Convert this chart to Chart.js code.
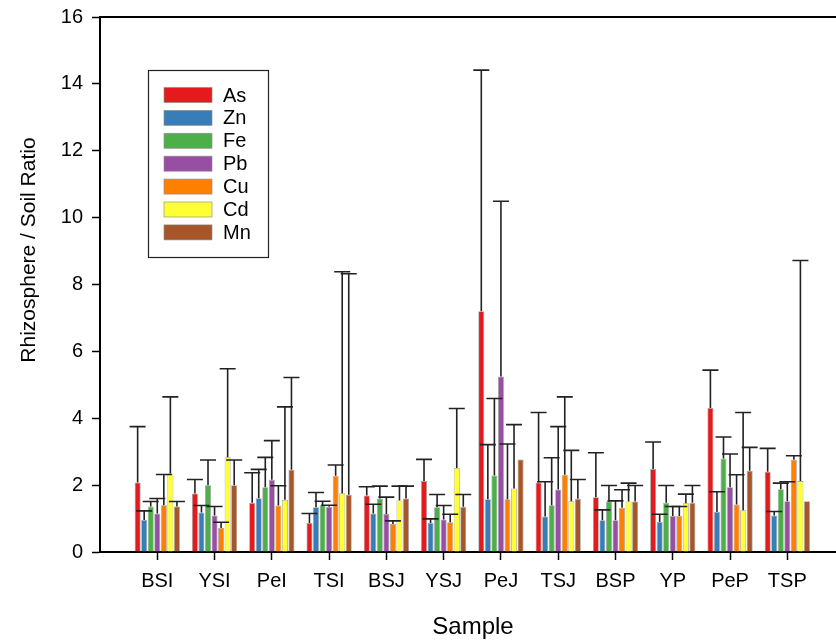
<!DOCTYPE html>
<html>
<head>
<meta charset="utf-8">
<script src="https://cdn.jsdelivr.net/npm/chart.js@4.4.1/dist/chart.umd.min.js"></script>
<style>
html,body{margin:0;padding:0;background:#fff;}
canvas{display:block;}
</style>
</head>
<body>
<canvas id="c" width="836" height="642"></canvas>
<script>
const categories = ['BSI','YSI','PeI','TSI','BSJ','YSJ','PeJ','TSJ','BSP','YP','PeP','TSP'];
const seriesNames = ['As','Zn','Fe','Pb','Cu','Cd','Mn'];

const valAs = [2.08, 1.75, 1.47, 0.87, 1.69, 2.12, 7.20, 2.08, 1.64, 2.48, 4.31, 2.40];
const valZn = [0.96, 1.18, 1.61, 1.34, 1.15, 0.87, 1.58, 1.06, 0.95, 0.90, 1.20, 1.09];
const valFe = [1.36, 2.00, 1.94, 1.40, 1.60, 1.34, 2.29, 1.40, 1.51, 1.47, 2.80, 1.88];
const valPb = [1.15, 1.09, 2.16, 1.35, 1.14, 0.97, 5.25, 1.87, 0.95, 1.08, 1.94, 1.52];
const valCu = [1.40, 0.72, 1.39, 2.28, 0.84, 0.89, 1.58, 2.31, 1.32, 1.08, 1.42, 2.76];
const valCd = [2.35, 2.83, 1.56, 1.76, 1.54, 2.51, 1.90, 1.52, 1.51, 1.46, 1.25, 2.12];
const valMn = [1.36, 2.00, 2.46, 1.71, 1.60, 1.35, 2.77, 1.59, 1.51, 1.47, 2.43, 1.52];

const errAs = [1.67, 0.42, 0.90, 0.28, 0.26, 0.65, 7.21, 2.09, 1.33, 0.81, 1.13, 0.70];
const errZn = [0.27, 0.21, 0.86, 0.44, 0.28, 0.12, 1.63, 1.04, 0.31, 0.23, 0.60, 0.12];
const errFe = [0.15, 0.75, 0.89, 0.12, 0.37, 0.38, 2.30, 1.42, 0.48, 0.52, 0.64, 0.18];
const errPb = [0.45, 0.27, 1.17, 0.05, 0.50, 0.42, 5.24, 1.88, 0.58, 0.28, 0.99, 0.58];
const errCu = [0.92, 0.17, 0.59, 0.32, 0.09, 0.24, 1.65, 2.33, 0.54, 0.28, 0.89, 0.12];
const errCd = [2.29, 2.65, 2.78, 6.62, 0.43, 1.78, 1.91, 1.52, 0.55, 0.27, 2.92, 6.60];
const errMn = [0.15, 0.75, 2.76, 6.61, 0.37, 0.37, null, 0.58, 0.48, 0.52, 0.70, null];

const yTicks = [0, 2, 4, 6, 8, 10, 12, 14, 16];
const colors = ['#e41a1c','#377eb8','#4daf4a','#984ea3','#ff7f00','#ffff33','#a65628'];

const allVals = [valAs, valZn, valFe, valPb, valCu, valCd, valMn];
const allErrs = [errAs, errZn, errFe, errPb, errCu, errCd, errMn];

const FONT = '"Liberation Sans", Arial, sans-serif';

const datasets = seriesNames.map((name, i) => ({
  label: name,
  data: allVals[i].map((v, j) => ({x: j + 1, y: v})),
  errors: allErrs[i],
  backgroundColor: colors[i],
  borderColor: 'rgba(140,140,140,0.8)',
  borderWidth: 0.8,
  barPercentage: 0.92,
  categoryPercentage: 0.8
}));

const extras = {
  id: 'extras',
  afterDatasetsDraw(chart) {
    const ctx = chart.ctx;
    const ys = chart.scales.y;
    ctx.save();
    ctx.strokeStyle = '#222';
    ctx.lineWidth = 1.6;
    chart.data.datasets.forEach((ds, i) => {
      const meta = chart.getDatasetMeta(i);
      meta.data.forEach((el, j) => {
        const e = ds.errors[j];
        if (e === null || e === undefined) return;
        const v = ds.data[j].y;
        const yTop = ys.getPixelForValue(v + e);
        const yBar = ys.getPixelForValue(v);
        ctx.beginPath();
        ctx.moveTo(el.x, yBar);
        ctx.lineTo(el.x, yTop);
        ctx.moveTo(el.x - 8, yTop);
        ctx.lineTo(el.x + 8, yTop);
        ctx.stroke();
      });
    });
    ctx.restore();
  },
  afterDraw(chart) {
    const ctx = chart.ctx;
    const ca = chart.chartArea;
    ctx.save();
    // top frame line
    ctx.strokeStyle = '#000';
    ctx.lineWidth = 2;
    ctx.beginPath();
    ctx.moveTo(ca.left, ca.top);
    ctx.lineTo(ca.right, ca.top);
    ctx.stroke();
    // legend box
    ctx.lineWidth = 1.2;
    ctx.strokeStyle = '#222';
    ctx.strokeRect(148.5, 70.5, 120, 187);
    ctx.font = '20px ' + FONT;
    ctx.textBaseline = 'middle';
    ctx.textAlign = 'left';
    chart.data.datasets.forEach((ds, i) => {
      const cy = 95 + i * 22.9;
      ctx.fillStyle = ds.backgroundColor;
      ctx.fillRect(164, cy - 7.5, 48, 15);
      ctx.strokeStyle = 'rgba(140,140,140,0.8)';
      ctx.lineWidth = 0.8;
      ctx.strokeRect(164, cy - 7.5, 48, 15);
      ctx.fillStyle = '#000';
      ctx.fillText(ds.label, 223, cy + 1);
    });
    // axis titles
    ctx.fillStyle = '#000';
    ctx.textAlign = 'center';
    ctx.textBaseline = 'middle';
    ctx.font = '24px ' + FONT;
    ctx.fillText('Sample', 473, 627);
    ctx.translate(29, 250);
    ctx.rotate(-Math.PI / 2);
    ctx.font = '21px ' + FONT;
    ctx.fillText('Rhizosphere / Soil Ratio', 0, 0);
    ctx.restore();
  }
};

new Chart(document.getElementById('c'), {
  type: 'bar',
  data: { datasets },
  options: {
    responsive: false,
    devicePixelRatio: 1,
    animation: false,
    layout: { padding: { top: 17, right: 0, bottom: 0, left: 0 } },
    plugins: { legend: { display: false }, tooltip: { enabled: false } },
    scales: {
      x: {
        type: 'linear',
        min: 0,
        max: 12.85,
        offset: false,
        afterBuildTicks: (s) => { s.ticks = categories.map((c, i) => ({ value: i + 1 })); },
        afterFit: (s) => { s.height = 90; s.paddingLeft = 0; s.paddingRight = 0; },
        ticks: {
          autoSkip: false,
          maxRotation: 0,
          padding: 9,
          color: '#000',
          font: { family: FONT, size: 20 },
          callback: (v) => categories[v - 1] || ''
        },
        grid: { display: true, drawOnChartArea: false, drawTicks: true, tickLength: 8, tickColor: '#000', tickWidth: 1.5, offset: false },
        border: { display: true, color: '#000', width: 2 }
      },
      y: {
        min: 0,
        max: 16,
        afterBuildTicks: (s) => { s.ticks = yTicks.map(v => ({ value: v })); },
        afterFit: (s) => { s.width = 100; s.paddingTop = 0; s.paddingBottom = 0; },
        ticks: {
          padding: 9,
          color: '#000',
          font: { family: FONT, size: 20 }
        },
        grid: { display: true, drawOnChartArea: false, drawTicks: true, tickLength: 8, tickColor: '#000', tickWidth: 1.5 },
        border: { display: true, color: '#000', width: 2 }
      }
    }
  },
  plugins: [extras]
});
</script>
</body>
</html>
